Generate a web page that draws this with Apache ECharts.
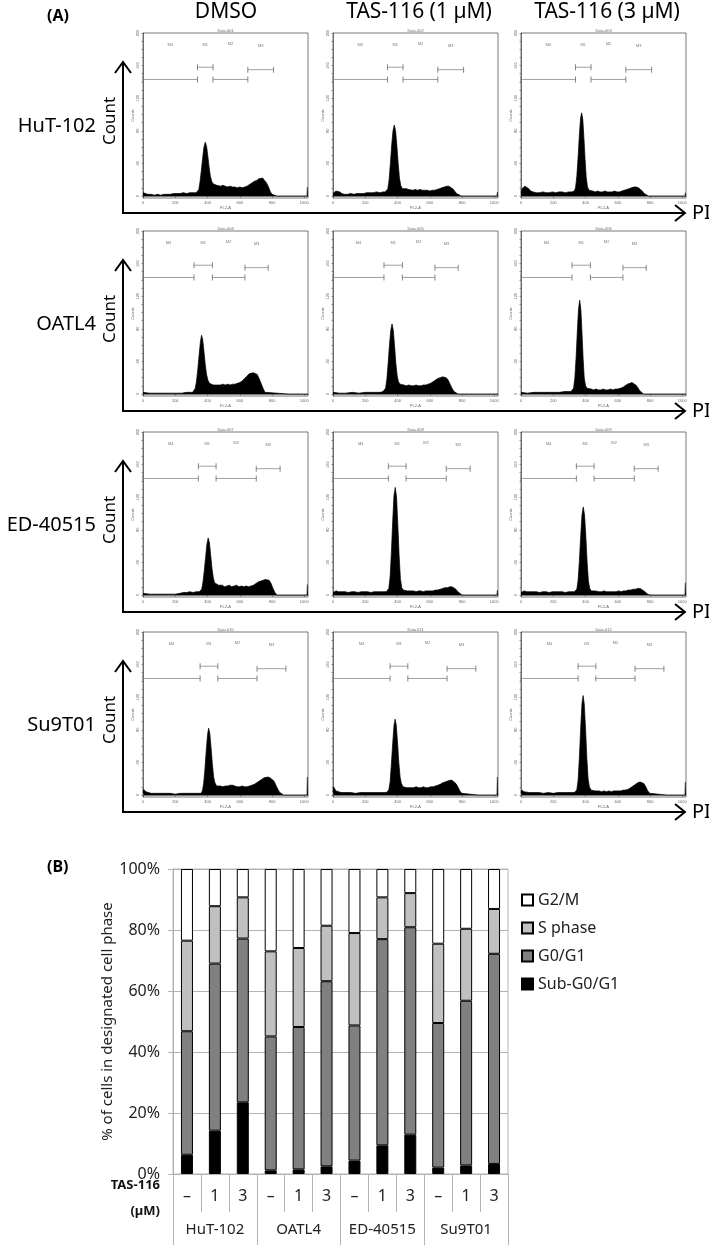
<!DOCTYPE html>
<html><head><meta charset="utf-8">
<script src="https://cdn.jsdelivr.net/npm/echarts@6/dist/echarts.min.js"></script>
<style>html,body{margin:0;padding:0;background:#fff}#c{width:709px;height:1245px}</style>
</head><body><div id="c"></div>
<script>
// ---------- Panel A data ----------
const CONDITIONS = ['DMSO', 'TAS-116 (1 µM)', 'TAS-116 (3 µM)'];
const CELL_LINES = ['HuT-102', 'OATL4', 'ED-40515', 'Su9T01'];
const FILE_NAMES = ['Data.001','Data.002','Data.003','Data.004','Data.005','Data.006','Data.007','Data.008','Data.009','Data.010','Data.011','Data.012'];
const FL2_TICKS = [0, 200, 400, 600, 800, 1000];
const COUNT_TICKS = [0, 40, 80, 120, 160, 200];
const GATE_NAMES = ['M4', 'M1', 'M2', 'M3'];
const GATE_LEVELS = [143, 158, 143, 155];
const GATE_LABEL_LEVELS = [185, 185, 187, 184];
const GATES_HUT = [[0,338],[338,434],[434,650],[650,810]];
const GATES_OATL = [[0,316],[316,430],[430,632],[632,776]];
const GATES_ED = [[0,343],[343,453],[453,702],[702,850]];
const GATES_SU = [[0,354],[354,464],[464,707],[707,886]];

// histograms: [FL2-A channel, count]
const H_HUT_DMSO = [[0,4],[8,5],[16,3],[30,2],[50,2],[70,1],[90,2],[110,1],[130,2],[150,2],[170,2],[190,3],[210,3],[230,3],[250,4],[270,3],[290,4],[310,4],[330,4],[338,5],[346,8],[354,18],[362,32],[370,47],[378,60],[386,66],[394,61],[402,49],[410,35],[418,24],[426,18],[434,15],[445,14],[458,13],[470,14],[482,12],[495,13],[510,12],[525,11],[540,12],[555,11],[570,11],[585,10],[600,11],[615,10],[630,11],[645,12],[660,14],[675,16],[690,18],[705,19],[718,21],[730,20],[742,22],[754,20],[766,16],[778,11],[790,5],[800,2],[812,1],[830,0],[900,0],[1000,0],[1017,0],[1019,11],[1023,11]];
const H_HUT_1 = [[0,3],[8,5],[18,6],[30,6],[42,5],[55,3],[70,2],[90,2],[110,3],[130,2],[150,3],[170,3],[190,3],[210,4],[230,4],[250,4],[270,5],[290,4],[310,5],[324,5],[332,6],[340,9],[348,20],[356,40],[364,63],[372,80],[380,87],[388,80],[396,62],[404,40],[412,22],[420,13],[430,9],[442,8],[455,9],[468,8],[480,8],[495,7],[510,8],[525,7],[540,8],[555,7],[570,7],[585,7],[600,6],[615,7],[630,7],[645,8],[660,9],[675,10],[690,11],[705,12],[718,12],[730,11],[742,9],[754,6],[766,3],[778,1],[795,0],[900,0],[1000,0],[1017,0],[1019,5],[1023,5]];
const H_HUT_3 = [[0,4],[6,9],[14,11],[24,12],[36,11],[48,9],[60,6],[75,5],[95,4],[115,4],[135,5],[155,4],[175,4],[195,5],[215,4],[235,5],[255,5],[275,4],[295,5],[315,5],[330,6],[338,10],[346,24],[354,48],[362,75],[369,95],[376,102],[383,94],[390,72],[397,46],[404,24],[412,11],[422,7],[434,6],[446,6],[460,5],[475,6],[490,5],[505,5],[520,6],[535,5],[550,5],[565,5],[580,6],[595,5],[610,5],[625,6],[640,7],[655,8],[670,9],[685,10],[700,11],[715,11],[728,10],[740,8],[752,6],[764,3],[776,1],[790,0],[900,0],[1000,0],[1017,0],[1019,4],[1023,4]];
const H_OATL_DMSO = [[0,2],[10,1],[40,1],[80,1],[120,1],[160,1],[200,1],[240,1],[270,2],[295,2],[308,2],[316,3],[324,7],[332,16],[340,31],[348,48],[356,64],[363,72],[370,67],[378,52],[386,36],[394,24],[402,17],[412,13],[425,12],[438,11],[450,12],[465,11],[480,11],[495,12],[510,11],[525,12],[540,11],[555,12],[570,12],[585,13],[600,14],[615,16],[630,19],[645,22],[660,25],[672,27],[684,26],[696,27],[708,24],[720,19],[732,13],[744,7],[756,2],[766,0],[900,0],[1023,0]];
const H_OATL_1 = [[0,2],[10,1],[40,1],[80,1],[120,2],[160,1],[200,2],[240,2],[270,2],[295,2],[310,3],[318,3],[326,7],[334,18],[342,38],[350,60],[358,78],[366,86],[374,78],[382,58],[390,37],[398,22],[406,15],[416,12],[428,11],[440,11],[455,10],[470,11],[485,10],[500,10],[515,11],[530,10],[545,10],[560,11],[575,11],[590,12],[605,13],[620,15],[635,17],[650,19],[665,20],[678,21],[690,21],[702,20],[714,17],[726,12],[738,7],[750,3],[762,1],[775,0],[900,0],[1023,0]];
const H_OATL_3 = [[0,2],[10,2],[40,1],[80,2],[120,2],[160,2],[200,2],[240,2],[270,3],[295,3],[310,3],[318,3],[326,7],[334,20],[342,46],[350,80],[357,105],[364,115],[371,104],[378,76],[385,44],[392,20],[400,10],[410,7],[422,6],[435,6],[450,5],[465,6],[480,5],[495,5],[510,6],[525,5],[540,5],[555,6],[570,5],[585,6],[600,6],[615,7],[630,8],[645,10],[660,12],[675,13],[688,14],[700,13],[712,11],[724,8],[736,4],[748,2],[760,0],[900,0],[1023,0]];
const H_ED_DMSO = [[0,2],[10,1],[40,1],[80,1],[120,1],[160,1],[200,1],[230,2],[250,3],[270,3],[290,4],[310,3],[330,4],[348,4],[356,4],[364,7],[372,16],[380,30],[388,46],[396,62],[404,70],[412,64],[420,48],[428,32],[436,21],[444,15],[455,13],[468,12],[480,11],[492,12],[505,10],[520,11],[535,12],[550,10],[565,11],[580,12],[595,10],[610,11],[625,10],[640,11],[655,10],[670,11],[685,12],[700,14],[715,16],[730,17],[745,18],[758,19],[770,19],[782,18],[794,14],[806,8],[818,3],[830,0],[900,0],[1000,0],[1017,0],[1019,13],[1023,13]];
const H_ED_1 = [[0,3],[8,5],[20,5],[35,4],[55,4],[75,4],[95,3],[115,4],[135,4],[155,3],[175,4],[195,4],[215,4],[235,3],[255,4],[275,4],[295,4],[315,4],[330,4],[338,4],[346,8],[354,22],[362,52],[370,90],[378,122],[386,132],[394,120],[402,86],[410,48],[418,20],[426,9],[436,6],[448,5],[460,5],[472,4],[485,5],[500,5],[515,4],[530,5],[545,5],[560,4],[575,5],[590,5],[605,5],[620,5],[635,6],[650,6],[665,7],[680,8],[695,9],[710,9],[724,10],[738,10],[750,9],[762,7],[774,4],[786,2],[800,0],[900,0],[1000,0],[1017,0],[1019,6],[1023,6]];
const H_ED_3 = [[0,3],[8,5],[20,5],[35,4],[55,4],[75,4],[95,4],[115,3],[135,4],[155,4],[175,3],[195,4],[215,4],[235,4],[255,4],[275,3],[295,4],[315,4],[330,4],[338,4],[346,7],[354,18],[362,42],[370,72],[378,98],[386,108],[394,98],[402,72],[410,40],[418,17],[426,8],[436,5],[448,4],[460,5],[472,4],[485,4],[500,4],[515,5],[530,4],[545,4],[560,4],[575,4],[590,4],[605,5],[620,4],[635,5],[650,5],[665,6],[680,6],[695,7],[710,7],[724,8],[738,8],[750,7],[762,5],[774,3],[786,1],[800,0],[900,0],[1000,0],[1017,0],[1019,15],[1023,15]];
const H_SU_DMSO = [[0,3],[4,7],[10,6],[18,4],[30,3],[50,2],[80,2],[110,2],[140,2],[170,2],[200,1],[230,2],[260,2],[290,2],[320,2],[345,2],[360,2],[368,5],[376,14],[384,32],[392,54],[400,74],[407,82],[414,76],[422,58],[430,38],[438,22],[446,15],[456,11],[468,10],[480,11],[495,10],[510,11],[525,11],[540,12],[555,12],[570,11],[585,10],[600,10],[615,11],[630,10],[645,10],[660,11],[675,12],[690,13],[705,15],[720,17],[735,19],[750,21],[762,22],[775,22],[788,21],[800,20],[812,17],[824,12],[836,7],[848,3],[860,1],[872,0],[900,0],[1000,0],[1017,0],[1019,22],[1023,22]];
const H_SU_1 = [[0,4],[4,10],[10,8],[18,5],[30,4],[50,3],[80,3],[110,3],[140,2],[170,3],[200,3],[230,3],[260,3],[290,3],[315,3],[330,3],[338,3],[346,6],[354,16],[362,38],[370,63],[378,85],[385,93],[392,86],[400,65],[408,40],[416,22],[424,14],[434,10],[446,9],[458,9],[470,10],[485,9],[500,9],[515,10],[530,9],[545,9],[560,10],[575,9],[590,9],[605,10],[620,10],[635,11],[650,12],[665,13],[680,15],[695,16],[710,17],[724,18],[738,18],[750,17],[762,14],[774,10],[786,5],[798,2],[810,0],[900,0],[1000,0],[1017,0],[1019,22],[1023,22]];
const H_SU_3 = [[0,3],[4,6],[10,5],[18,4],[30,3],[50,3],[80,3],[110,3],[140,2],[170,3],[200,2],[230,3],[260,3],[290,3],[315,3],[330,3],[338,3],[346,6],[354,18],[362,46],[370,82],[378,112],[385,122],[392,112],[400,82],[408,46],[416,20],[424,10],[434,6],[446,5],[458,5],[470,4],[485,5],[500,4],[515,5],[530,4],[545,5],[560,4],[575,5],[590,5],[605,5],[620,5],[635,6],[650,6],[665,7],[680,9],[695,11],[710,13],[724,15],[738,16],[750,16],[762,14],[774,10],[786,5],[798,2],[810,0],[900,0],[1000,0],[1017,0],[1019,16],[1023,16]];

// ---------- Panel B data ----------
const BAR_DOSES = ['–','1','3','–','1','3','–','1','3','–','1','3'];
const BAR_GROUPS = ['HuT-102', 'OATL4', 'ED-40515', 'Su9T01'];
const SUB_G0G1 = [6.3, 14.2, 23.5, 1.2, 1.5, 2.5, 4.4, 9.4, 12.9, 2.1, 2.8, 3.3];
const G0G1 =     [40.5, 54.8, 53.7, 43.9, 46.7, 60.7, 44.3, 67.6, 68.0, 47.4, 54.0, 68.9];
const S_PHASE =  [29.7, 18.8, 13.5, 27.9, 25.9, 18.2, 30.3, 13.7, 11.2, 26.0, 23.6, 14.7];
const G2M =      [23.5, 12.2, 9.3, 27.0, 25.9, 18.6, 21.0, 9.3, 7.9, 24.5, 19.6, 13.1];

// ---------- layout ----------
const FONT = '"Noto Sans", "Open Sans", sans-serif';
const COL_LEFT = [143, 333, 521];
const PANEL_W = 165;
const ROW_BOTTOM = [213, 411, 612, 812];
const HISTS = [H_HUT_DMSO, H_HUT_1, H_HUT_3, H_OATL_DMSO, H_OATL_1, H_OATL_3, H_ED_DMSO, H_ED_1, H_ED_3, H_SU_DMSO, H_SU_1, H_SU_3];
const ROW_GATES = [GATES_HUT, GATES_OATL, GATES_ED, GATES_SU];

const chart = echarts.init(document.getElementById('c'), null, {renderer: 'canvas', width: 709, height: 1245});
const grids = [], xAxes = [], yAxes = [], series = [], graphics = [];
const tiny = {fontSize: 4, color: '#666', fontFamily: 'Liberation Sans, sans-serif'};
const yMinorTicks = [];
for (let v = 0; v <= 200; v += 10) yMinorTicks.push(v);

HISTS.forEach((h, i) => {
  const r = Math.floor(i / 3), c = i % 3, rb = ROW_BOTTOM[r];
  grids.push({left: COL_LEFT[c], top: rb - 180, width: PANEL_W, height: 165, show: true,
    borderColor: '#555', borderWidth: 0.8, backgroundColor: '#fff', outerBoundsMode: 'none', containLabel: false});
  xAxes.push({gridIndex: i, type: 'value', min: 0, max: 1023,
    axisLine: {show: true, lineStyle: {color: '#555', width: 0.8}},
    axisTick: {show: true, customValues: FL2_TICKS, length: 2, lineStyle: {color: '#555', width: 0.6}},
    axisLabel: {show: true, customValues: FL2_TICKS, margin: 2.5, formatter: v => String(v), ...tiny},
    splitLine: {show: false},
    name: 'FL2-A', nameLocation: 'middle', nameGap: 7.5, nameTextStyle: tiny});
  yAxes.push({gridIndex: i, type: 'value', min: -2.5, max: 200,
    axisLine: {show: true, lineStyle: {color: '#555', width: 0.8}},
    axisTick: {show: true, customValues: yMinorTicks, length: 1.5, lineStyle: {color: '#555', width: 0.6}},
    axisLabel: {show: true, customValues: COUNT_TICKS, margin: 3, rotate: 90, formatter: v => String(v), ...tiny},
    splitLine: {show: false},
    name: 'Counts', nameLocation: 'middle', nameGap: 7.5, nameTextStyle: tiny});
  series.push({type: 'line', xAxisIndex: i, yAxisIndex: i, data: h, symbol: 'none', silent: true,
    lineStyle: {color: '#000', width: 0.7}, areaStyle: {color: '#000', opacity: 1}, z: 3});
  ROW_GATES[r].forEach((g, k) => {
    series.push({type: 'line', xAxisIndex: i, yAxisIndex: i, silent: true,
      data: [[g[0], GATE_LEVELS[k]], [g[1], GATE_LEVELS[k]]],
      symbol: 'rect', symbolSize: [0.9, 6], showSymbol: true,
      itemStyle: {color: '#777'}, lineStyle: {color: '#888', width: 0.8}, z: 4});
  });
  series.push({type: 'scatter', xAxisIndex: i, yAxisIndex: i, silent: true, symbolSize: 0,
    data: ROW_GATES[r].map((g, k) => ({name: GATE_NAMES[k], value: [(g[0] + g[1]) / 2, GATE_LABEL_LEVELS[k]]})),
    label: {show: true, position: 'inside', formatter: '{b}', ...tiny, color: '#555'}});
  graphics.push({type: 'text', x: COL_LEFT[c] + PANEL_W / 2, y: rb - 182, silent: true,
    style: {text: FILE_NAMES[i], align: 'center', verticalAlign: 'middle', font: '4px "Liberation Sans", sans-serif', fill: '#666'}});
});

// panel A decorations
graphics.push({type: 'text', x: 47, y: 16, style: {text: '(A)', align: 'left', verticalAlign: 'middle', font: 'bold 16px ' + FONT, fill: '#000'}});
const TITLE_X = [226, 419, 607];
CONDITIONS.forEach((t, c) => graphics.push({type: 'text', x: TITLE_X[c], y: 12,
  style: {text: t, align: 'center', verticalAlign: 'middle', font: '21px ' + FONT, fill: '#000'}}));
CELL_LINES.forEach((name, r) => {
  const rb = ROW_BOTTOM[r];
  graphics.push({type: 'text', x: 96, y: rb - 87, style: {text: name, align: 'right', verticalAlign: 'middle', font: '20px ' + FONT, fill: '#000'}});
  graphics.push({type: 'text', x: 110, y: rb - 92, rotation: Math.PI / 2,
    style: {text: 'Count', align: 'center', verticalAlign: 'middle', font: '17px ' + FONT, fill: '#000'}});
  graphics.push({type: 'polyline', shape: {points: [[123, rb - 150], [123, rb], [684, rb]]}, style: {stroke: '#000', lineWidth: 2, fill: null}});
  graphics.push({type: 'polyline', shape: {points: [[115, rb - 140], [123, rb - 151], [131, rb - 140]]}, style: {stroke: '#000', lineWidth: 2, fill: null}});
  graphics.push({type: 'polyline', shape: {points: [[675, rb - 8], [685, rb], [675, rb + 8]]}, style: {stroke: '#000', lineWidth: 2, fill: null}});
  graphics.push({type: 'text', x: 692, y: rb, style: {text: 'PI', align: 'left', verticalAlign: 'middle', font: '20px ' + FONT, fill: '#000'}});
});

// ---------- Panel B ----------
const B = 12;
grids.push({left: 173, top: 869, width: 335, height: 305, show: true, borderColor: '#b4b4b4', borderWidth: 1,
  outerBoundsMode: 'none', containLabel: false});
xAxes.push({gridIndex: B, type: 'category', data: BAR_DOSES,
  axisLine: {show: true, lineStyle: {color: '#b4b4b4', width: 1}},
  axisTick: {show: true, length: 38, interval: 0, lineStyle: {color: '#b4b4b4', width: 1}},
  axisLabel: {interval: 0, margin: 14, fontSize: 16, color: '#222', fontFamily: FONT}});
xAxes.push({gridIndex: B, type: 'category', data: BAR_GROUPS, position: 'bottom',
  axisLine: {show: false},
  axisTick: {show: true, length: 71, interval: 0, lineStyle: {color: '#b4b4b4', width: 1}},
  axisLabel: {interval: 0, margin: 48, fontSize: 15, color: '#222', fontFamily: FONT}});
yAxes.push({gridIndex: B, type: 'value', min: 0, max: 100, interval: 20,
  axisLine: {show: true, lineStyle: {color: '#b4b4b4'}},
  axisTick: {show: true, length: 5, lineStyle: {color: '#b4b4b4'}},
  axisLabel: {formatter: '{value}%', margin: 13, fontSize: 16, color: '#222', fontFamily: FONT},
  splitLine: {show: true, lineStyle: {color: '#b4b4b4', width: 1}},
  name: '% of cells in designated cell phase', nameLocation: 'middle', nameGap: 56,
  nameTextStyle: {fontSize: 15, color: '#222', fontFamily: FONT}});
const barCommon = {type: 'bar', stack: 'phase', xAxisIndex: B, yAxisIndex: B, barWidth: 12, silent: true};
series.push({...barCommon, name: 'Sub-G0/G1', data: SUB_G0G1, itemStyle: {color: '#000', borderColor: '#000', borderWidth: 1}});
series.push({...barCommon, name: 'G0/G1', data: G0G1, itemStyle: {color: '#808080', borderColor: '#000', borderWidth: 1}});
series.push({...barCommon, name: 'S phase', data: S_PHASE, itemStyle: {color: '#c0c0c0', borderColor: '#000', borderWidth: 1}});
series.push({...barCommon, name: 'G2/M', data: G2M, itemStyle: {color: '#fff', borderColor: '#000', borderWidth: 1}});

graphics.push({type: 'text', x: 47, y: 867, style: {text: '(B)', align: 'left', verticalAlign: 'middle', font: 'bold 16px ' + FONT, fill: '#000'}});
graphics.push({type: 'text', x: 160, y: 1185, style: {text: 'TAS-116', align: 'right', verticalAlign: 'middle', font: 'bold 13px ' + FONT, fill: '#111'}});
graphics.push({type: 'text', x: 160, y: 1211, style: {text: '(µM)', align: 'right', verticalAlign: 'middle', font: 'bold 13px ' + FONT, fill: '#111'}});

chart.setOption({
  animation: false,
  backgroundColor: '#fff',
  grid: grids, xAxis: xAxes, yAxis: yAxes, series: series,
  legend: {data: ['G2/M', 'S phase', 'G0/G1', 'Sub-G0/G1'], orient: 'vertical', left: 516, top: 887,
    itemWidth: 11, itemHeight: 11, itemGap: 12, icon: 'rect', selectedMode: false,
    textStyle: {fontSize: 16, color: '#222', fontFamily: FONT}},
  graphic: {elements: graphics}
});
</script></body></html>
